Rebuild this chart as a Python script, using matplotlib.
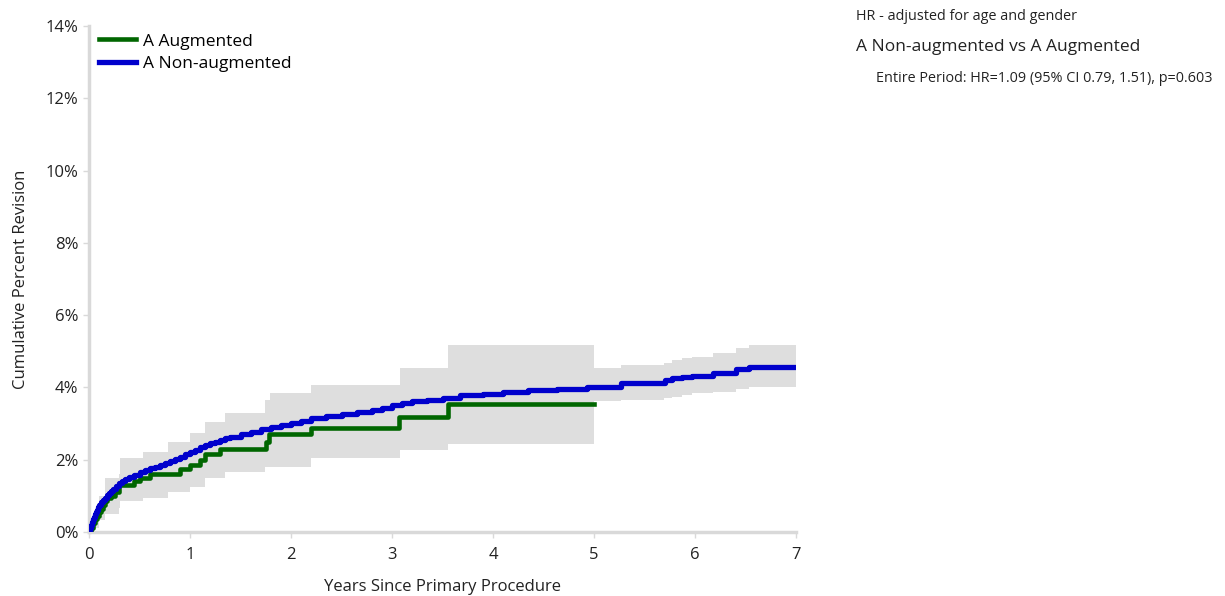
import matplotlib
matplotlib.use("Agg")
import matplotlib.pyplot as plt
from matplotlib.ticker import FuncFormatter

plt.rcParams['font.family'] = ['Open Sans', 'DejaVu Sans']

# ---- data (years, cumulative percent revision) ----
aug_t = [0, 0.02, 0.04, 0.06, 0.08, 0.1, 0.12, 0.14, 0.16, 0.18, 0.22, 0.26, 0.3, 0.45, 0.5, 0.6, 0.9, 1.0, 1.1, 1.15, 1.3, 1.75, 1.78, 2.2, 3.07, 3.55, 5.0]
aug_v = [0, 0.12, 0.25, 0.35, 0.45, 0.55, 0.65, 0.75, 0.85, 0.95, 1.0, 1.1, 1.3, 1.4, 1.5, 1.6, 1.75, 1.85, 2.0, 2.15, 2.3, 2.5, 2.71, 2.87, 3.17, 3.55, 3.55]

aug_ci_t = [0, 0.05, 0.1, 0.16, 0.31, 0.53, 0.78, 1.0, 1.15, 1.35, 1.74, 1.79, 2.2, 3.08, 3.55, 5.0]
aug_lo = [0, 0.1, 0.33, 0.66, 0.85, 0.95, 1.1, 1.25, 1.49, 1.67, 1.81, 1.81, 2.06, 2.27, 2.43, 2.43]
aug_hi = [0, 0.6, 1.0, 1.5, 2.05, 2.22, 2.5, 2.74, 3.05, 3.28, 3.65, 3.85, 4.07, 4.53, 5.17, 5.17]

non_t = [0, 0.01, 0.02, 0.03, 0.04, 0.05, 0.06, 0.07, 0.08, 0.09, 0.1, 0.12, 0.14, 0.16, 0.18, 0.2, 0.22, 0.24, 0.27,
         0.3, 0.33, 0.36, 0.4, 0.45, 0.5, 0.55, 0.6, 0.65, 0.7, 0.75, 0.8, 0.85, 0.9, 0.95, 1.0, 1.05, 1.1, 1.15, 1.2, 1.25,
         1.3, 1.35, 1.4, 1.5, 1.6, 1.7, 1.8, 1.9, 2.0, 2.1, 2.2, 2.35, 2.5, 2.65, 2.8, 2.9, 3.0, 3.1, 3.2, 3.35, 3.5, 3.67,
         3.9, 4.1, 4.35, 4.63, 4.93, 5.27, 5.7, 5.77, 5.87, 5.97, 6.18, 6.41, 6.53, 7.0]
non_v = [0, 0.1, 0.2, 0.28, 0.35, 0.42, 0.5, 0.56, 0.62, 0.68, 0.75, 0.82, 0.88, 0.95, 1.01, 1.08, 1.14, 1.2, 1.28,
         1.36, 1.42, 1.47, 1.52, 1.59, 1.66, 1.71, 1.77, 1.81, 1.86, 1.91, 1.96, 2.02, 2.08, 2.15, 2.21, 2.28, 2.34, 2.4, 2.46, 2.5,
         2.55, 2.6, 2.63, 2.7, 2.77, 2.84, 2.91, 2.96, 3.02, 3.08, 3.15, 3.2, 3.27, 3.32, 3.38, 3.44, 3.51, 3.57, 3.62, 3.66, 3.71, 3.79,
         3.83, 3.88, 3.92, 3.95, 4.02, 4.11, 4.21, 4.25, 4.28, 4.32, 4.41, 4.5, 4.57, 4.57]

non_ci_t = [0, 0.1, 0.3, 0.6, 1.0, 1.5, 2.0, 2.5, 3.0, 3.5, 4.0, 4.5, 5.0, 5.27, 5.69, 5.77, 5.87, 5.97, 6.18, 6.41, 6.53, 7.0]
non_lo = [0, 0.5, 1.1, 1.5, 1.9, 2.35, 2.7, 2.95, 3.15, 3.3, 3.4, 3.5, 3.62, 3.65, 3.70, 3.74, 3.79, 3.84, 3.88, 3.95, 4.02, 4.02]
non_hi = [0, 1.0, 1.6, 2.05, 2.5, 3.05, 3.35, 3.6, 3.85, 4.1, 4.3, 4.45, 4.55, 4.62, 4.67, 4.76, 4.81, 4.85, 4.95, 5.09, 5.18, 5.18]

labels = ["A Augmented", "A Non-augmented"]
green = "#006600"
blue = "#0000CC"
band = "#DEDEDE"

fig = plt.figure(figsize=(12.25, 5.96), dpi=100)
ax = fig.add_axes([89/1225, 1-532/596, (796-89)/1225, (532-26)/596])

ax.fill_between(aug_ci_t, aug_lo, aug_hi, step='post', color=band, lw=0, zorder=1)
ax.fill_between(non_ci_t, non_lo, non_hi, step='post', color=band, lw=0, zorder=1)
ax.step(aug_t, aug_v, where='post', color=green, lw=3.3, label=labels[0], zorder=3)
ax.step(non_t, non_v, where='post', color=blue, lw=3.8, label=labels[1], zorder=4)

ax.set_xlim(0, 7)
ax.set_ylim(0, 14)
ax.set_xticks(range(0, 8))
ax.set_yticks(range(0, 15, 2))
ax.yaxis.set_major_formatter(FuncFormatter(lambda v, p: f"{int(v)}%"))
for s in ['top', 'right']:
    ax.spines[s].set_visible(False)
for s in ['left', 'bottom']:
    ax.spines[s].set_color('#D9D9D9')
    ax.spines[s].set_linewidth(2.5)
ax.tick_params(axis='both', colors='#D9D9D9', labelcolor='#222222', labelsize=12, length=4, width=1)
ax.tick_params(axis='x', pad=7)
ax.set_xlabel("Years Since Primary Procedure", fontsize=12, color='#222222', labelpad=11)
ax.set_ylabel("Cumulative Percent Revision", fontsize=12, color='#222222', labelpad=12)

leg = ax.legend(loc='upper left', frameon=False, fontsize=12.5, handlelength=2.1, handletextpad=0.4,
                borderaxespad=0.2, labelspacing=0.35, bbox_to_anchor=(0.0, 1.006))

fig.text(856/1225, 1-17/596, "HR - adjusted for age and gender", fontsize=10.4, color='#222222', va='center', ha='left')
fig.text(856/1225, 1-47/596, "A Non-augmented vs A Augmented", fontsize=12.5, color='#222222', va='center', ha='left')
fig.text(876/1225, 1-78/596, "Entire Period: HR=1.09 (95% CI 0.79, 1.51), p=0.603", fontsize=10.4, color='#222222', va='center', ha='left')

fig.savefig("out.png", dpi=100)
